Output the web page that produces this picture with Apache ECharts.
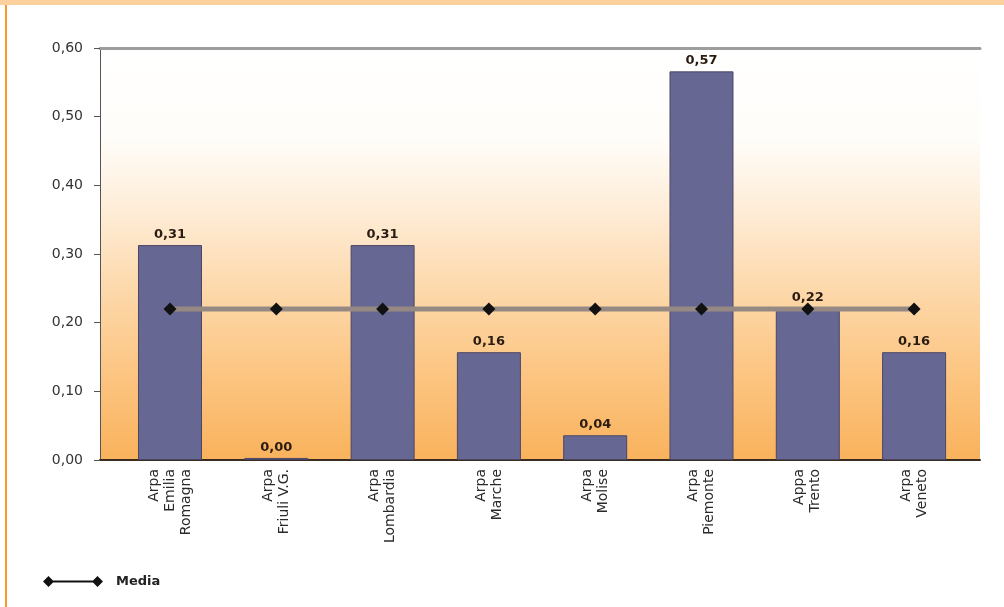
<!DOCTYPE html>
<html>
<head>
<meta charset="utf-8">
<script src="https://cdn.jsdelivr.net/npm/echarts@6/dist/echarts.min.js"></script>
<style>
  html, body { margin: 0; padding: 0; background: #fff; }
  #wrap { position: relative; width: 1004px; height: 607px; overflow: hidden; }
  #chart { position: absolute; left: 0; top: 0; width: 1004px; height: 607px; }
  #topband { position: absolute; left: 0; top: 0; width: 1004px; height: 5px; background: #fdd19e; }
  #leftline { position: absolute; left: 5px; top: 5px; width: 2px; height: 602px; background: #f69a2c; }
</style>
</head>
<body>
<div id="wrap">
  <div id="chart"></div>
  <div id="topband"></div>
  <div id="leftline"></div>
</div>
<script>
const categories = ['Arpa\nEmilia\nRomagna', 'Arpa\nFriuli V.G.', 'Arpa\nLombardia', 'Arpa\nMarche', 'Arpa\nMolise', 'Arpa\nPiemonte', 'Appa\nTrento', 'Arpa\nVeneto'];
const values = [0.313, 0.003, 0.313, 0.157, 0.036, 0.566, 0.221, 0.157];
const media = [0.22, 0.22, 0.22, 0.22, 0.22, 0.22, 0.22, 0.22];
const yTicks = [0, 0.1, 0.2, 0.3, 0.4, 0.5, 0.6];

const idx = categories.map((c, i) => i);
const fmt = v => v.toFixed(2).replace('.', ',');

const chart = echarts.init(document.getElementById('chart'), null, { renderer: 'canvas' });
chart.setOption({
  animation: false,
  backgroundColor: 'transparent',
  textStyle: { fontFamily: 'DejaVu Sans' },
  grid: {
    left: 100, right: 24, top: 48, bottom: 147,
    show: true,
    borderWidth: 0,
    backgroundColor: {
      type: 'linear', x: 0, y: 0, x2: 0, y2: 1,
      colorStops: [
        { offset: 0, color: '#ffffff' },
        { offset: 0.22, color: '#fffdf9' },
        { offset: 0.4, color: '#feecd6' },
        { offset: 0.58, color: '#fdd9ac' },
        { offset: 0.78, color: '#fcc684' },
        { offset: 1, color: '#f9b25c' }
      ]
    }
  },
  xAxis: [{
    type: 'value',
    min: -0.6585,
    max: 7.62,
    splitLine: { show: false },
    axisTick: { show: false },
    axisLine: { show: true, onZero: false, lineStyle: { color: '#3b2c22', width: 2 } },
    axisLabel: {
      customValues: idx,
      formatter: v => categories[Math.round(v)],
      rotate: 90,
      margin: 9,
      color: '#2a2a2a',
      fontSize: 14,
      lineHeight: 16
    }
  }, {
    type: 'value',
    position: 'top',
    min: -0.6585,
    max: 7.62,
    splitLine: { show: false },
    axisTick: { show: false },
    axisLabel: { show: false },
    axisLine: { show: true, onZero: false, lineStyle: { color: '#9d9d9d', width: 3 } }
  }],
  yAxis: {
    type: 'value',
    min: 0,
    max: 0.6,
    interval: 0.1,
    splitLine: { show: false },
    axisLine: { show: true, onZero: false, lineStyle: { color: '#555', width: 1 } },
    axisTick: { show: true, length: 6, lineStyle: { color: '#555' } },
    axisLabel: {
      formatter: v => fmt(v),
      color: '#333',
      fontSize: 14,
      margin: 17
    }
  },
  legend: {
    left: 38,
    top: 570,
    itemWidth: 60,
    itemHeight: 11,
    data: [{
      name: 'Media',
      icon: 'path://M0,5.5 L5.5,0 L11,5.5 L5.5,11 Z M5,4.5 L55,4.5 L55,6.5 L5,6.5 Z M49,5.5 L54.5,0 L60,5.5 L54.5,11 Z',
      itemStyle: { color: '#111' }
    }],
    textStyle: { color: '#222', fontWeight: 'bold', fontSize: 13, padding: [0, 0, 0, 8] }
  },
  series: [{
    type: 'bar',
    name: 'Valore',
    data: values.map((v, i) => [i, v]),
    barWidth: 64,
    itemStyle: { color: '#676793', borderColor: '#4a4766', borderWidth: 1 },
    label: {
      show: true,
      position: 'top',
      distance: 4,
      formatter: p => fmt(p.value[1]),
      color: '#2a1c12',
      fontWeight: 'bold',
      fontSize: 13
    },
    z: 2
  }, {
    type: 'line',
    name: 'Media',
    data: media.map((v, i) => [i, v]),
    symbol: 'diamond',
    symbolSize: 13,
    itemStyle: { color: '#111' },
    lineStyle: { color: '#968983', width: 5 },
    z: 3
  }]
});
</script>
</body>
</html>
